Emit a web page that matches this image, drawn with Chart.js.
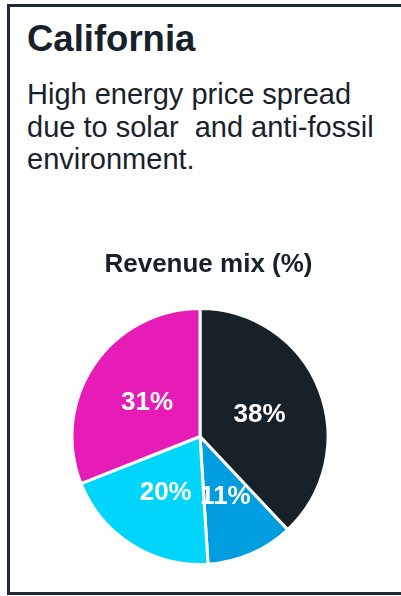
<!DOCTYPE html>
<html>
<head>
<meta charset="utf-8">
<script src="https://cdn.jsdelivr.net/npm/chart.js@4/dist/chart.umd.min.js"></script>
<style>
  html, body { margin: 0; padding: 0; width: 401px; height: 596px; overflow: hidden; background: #fff; }
  body { position: relative; font-family: "Liberation Sans", Arial, sans-serif; color: #17212b; }
  .card {
    position: absolute; left: 7px; top: 4px; width: 430px; height: 591px;
    box-sizing: border-box; border: 3px solid #1e2a3c;
  }
  .titolo {
    position: absolute; left: 27px; top: 21px; margin: 0;
    font-size: 36.5px; line-height: 36px; font-weight: bold; white-space: pre;
  }
  .testo {
    position: absolute; left: 27px; top: 78px; margin: 0;
    font-size: 29px; line-height: 32.5px; white-space: pre;
  }
  .titolo-grafico {
    position: absolute; left: 0; top: 250px; width: 417px; margin: 0;
    text-align: center; font-size: 26px; line-height: 26px; font-weight: bold;
  }
  .grafico { position: absolute; left: 0; top: 236px; width: 417px; height: 360px; }
</style>
</head>
<body>
<div class="card"></div>
<h1 class="titolo">California</h1>
<p class="testo">High energy price spread
due to solar  and anti-fossil
environment.</p>
<div class="grafico"><canvas id="pie-chart"></canvas></div>
<h2 class="titolo-grafico" id="titolo-grafico"></h2>

<script>
// Dati del grafico
const categorie = ["Quota 1", "Quota 2", "Quota 3", "Quota 4"];
const valori = [38, 11, 20, 31];
const colori = ["#16212a", "#009ee0", "#00d6fc", "#e71bb6"];
const titoloGrafico = "Revenue mix (%)";

document.getElementById("titolo-grafico").textContent = titoloGrafico;

// Etichette percentuali dentro le fette
const etichettePlugin = {
  id: "etichette",
  afterDatasetsDraw(chart) {
    const ctx = chart.ctx;
    const meta = chart.getDatasetMeta(0);
    ctx.save();
    ctx.fillStyle = "#ffffff";
    ctx.font = "bold 26px 'Liberation Sans', Arial, sans-serif";
    ctx.textAlign = "center";
    ctx.textBaseline = "middle";
    meta.data.forEach((arc, i) => {
      const pos = arc.tooltipPosition();
      ctx.fillText(valori[i] + "%", pos.x, pos.y + 2);
    });
    ctx.restore();
  },
};

new Chart(document.getElementById("pie-chart").getContext("2d"), {
  type: "pie",
  data: {
    labels: categorie,
    datasets: [
      {
        data: valori,
        backgroundColor: colori,
        borderColor: "#ffffff",
        borderWidth: 3,
      },
    ],
  },
  options: {
    responsive: true,
    maintainAspectRatio: false,
    animation: false,
    layout: { padding: { left: 10, right: 27, top: 71, bottom: 30 } },
    plugins: {
      legend: { display: false },
      tooltip: { enabled: false },
      title: { display: false },
    },
  },
  plugins: [etichettePlugin],
});
</script>
</body>
</html>
